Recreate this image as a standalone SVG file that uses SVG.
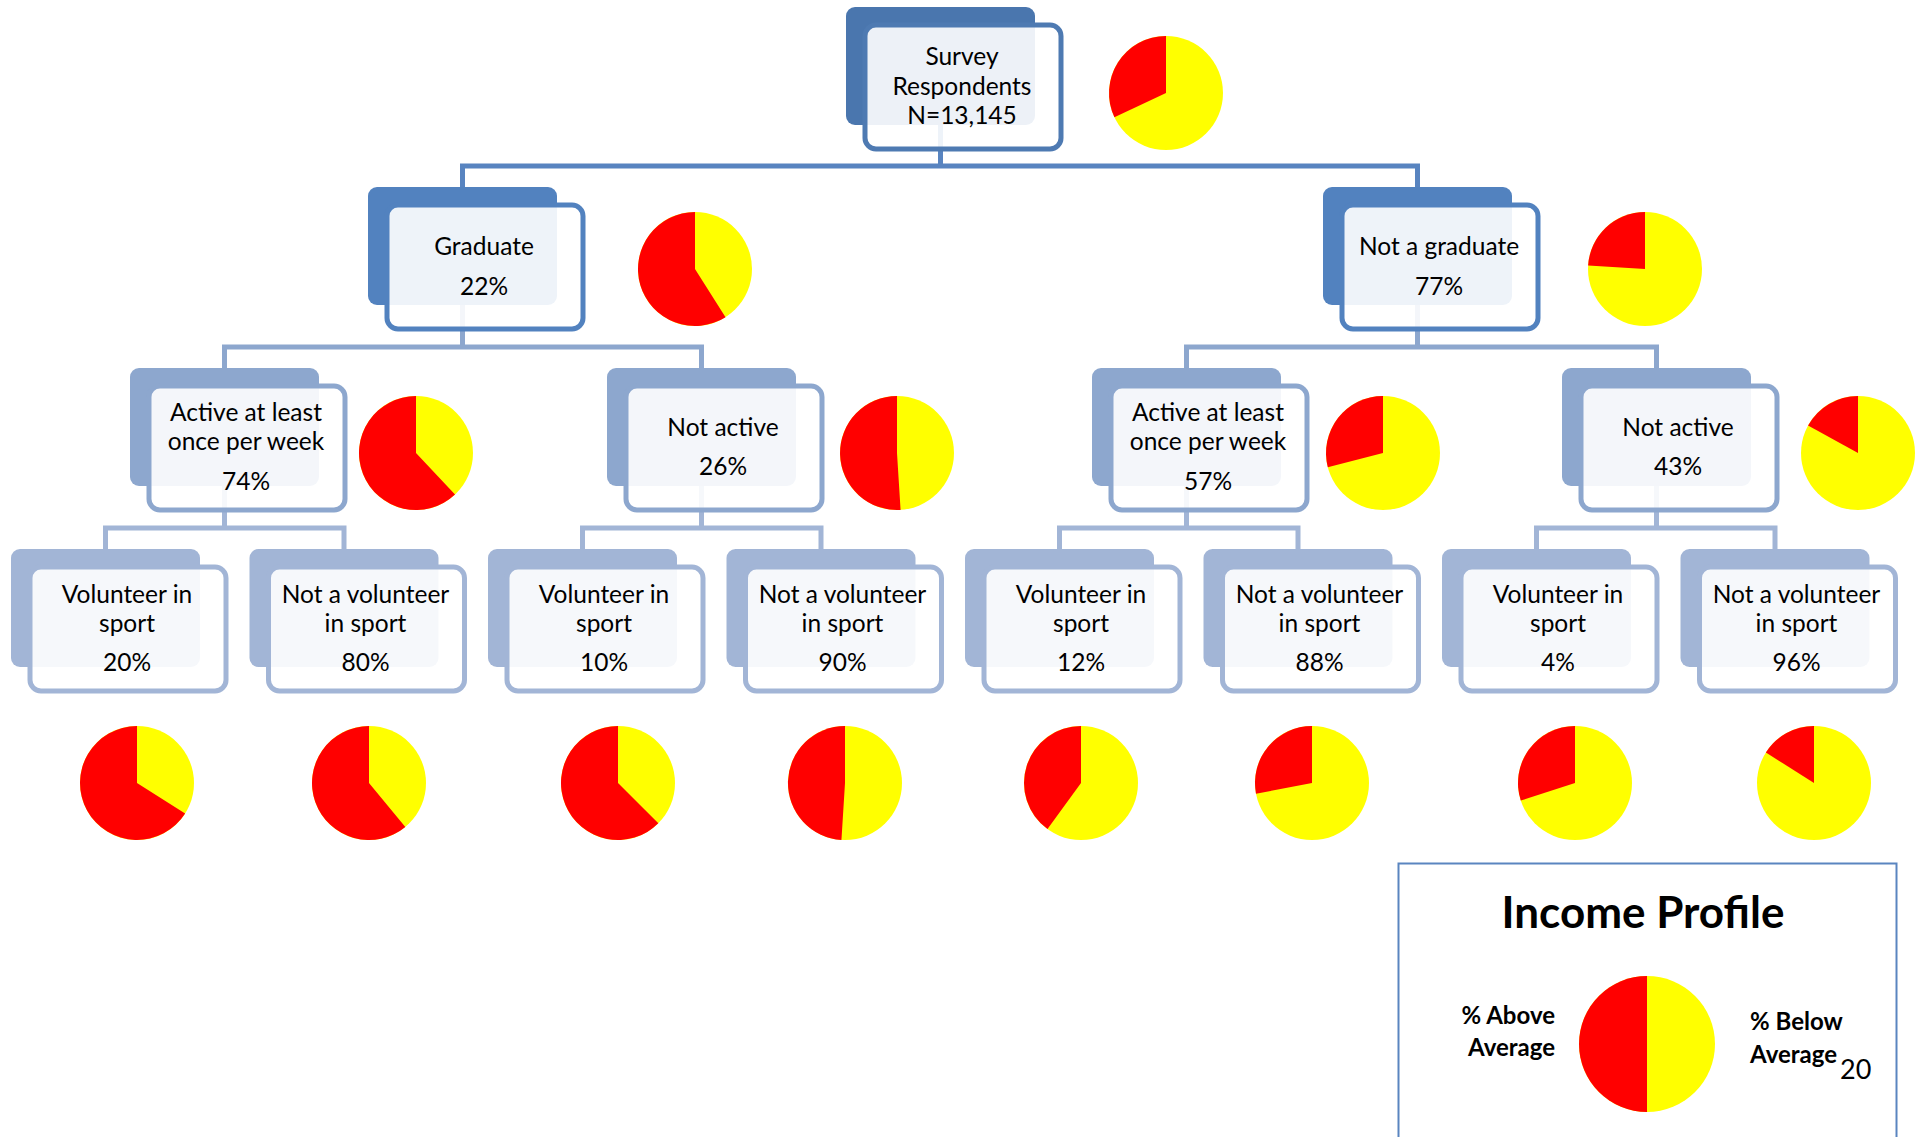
<svg xmlns="http://www.w3.org/2000/svg" width="1919" height="1137" viewBox="0 0 1919 1137">
<style>
.t{font-family:Lato,"Noto Sans",sans-serif;font-size:24.5px;fill:#000;text-anchor:middle}
.front{fill:#fff;fill-opacity:0.9;stroke-width:5}
.c{fill:none;stroke-width:5}
.yel{fill:#FFFF00}
.red{fill:#FF0000}
.l1 .back{fill:#4A76AE}.l1 .front{stroke:#4E7AB2}
.l2 .back{fill:#5282BF}.l2 .front{stroke:#5282BF}
.l3 .back{fill:#8DA7CE}.l3 .front{stroke:#8DA7CE}
.l4 .back{fill:#A2B5D6}.l4 .front{stroke:#A2B5D6}
.lg{font-family:Lato,"Noto Sans",sans-serif;font-weight:bold;fill:#000}
</style>
<g id="connectors">
<path class="c" stroke="#5884C0" d="M940.5,120 V166 M462.5,195 V166 H1417.5 V195"/>
<path class="c" stroke="#8DA7CE" d="M462.5,300 V347 M224.5,375 V347 H701.5 V375 M1417.5,300 V347 M1186.5,375 V347 H1656.5 V375"/>
<path class="c" stroke="#A2B5D6" d="M224.5,480 V528 M105.5,556 V528 H344 V556 M701.5,480 V528 M582.5,556 V528 H821 V556 M1186.5,480 V528 M1059.5,556 V528 H1298 V556 M1656.5,480 V528 M1536.5,556 V528 H1775 V556"/>
</g>
<g id="n-root" class="l1">
<rect class="back" x="846" y="7" width="189" height="118" rx="9"/>
<rect class="front" x="865" y="25" width="196" height="124" rx="11"/>
<text class="t" x="962" y="65">Survey</text>
<text class="t" x="962" y="95">Respondents</text>
<text class="t" x="962" y="124">N=13,145</text>
</g>
<g id="n-grad" class="l2">
<rect class="back" x="368" y="187" width="189" height="118" rx="9"/>
<rect class="front" x="387" y="205" width="196" height="124" rx="11"/>
<text class="t" x="484" y="255">Graduate</text>
<text class="t" x="484" y="295">22%</text>
</g>
<g id="n-notgrad" class="l2">
<rect class="back" x="1323" y="187" width="189" height="118" rx="9"/>
<rect class="front" x="1342" y="205" width="196" height="124" rx="11"/>
<text class="t" x="1439" y="255">Not a graduate</text>
<text class="t" x="1439" y="295">77%</text>
</g>
<g id="n-g-active" class="l3">
<rect class="back" x="130" y="368" width="189" height="118" rx="9"/>
<rect class="front" x="149" y="386" width="196" height="124" rx="11"/>
<text class="t" x="246" y="421">Active at least</text>
<text class="t" x="246" y="450">once per week</text>
<text class="t" x="246" y="490">74%</text>
</g>
<g id="n-g-notactive" class="l3">
<rect class="back" x="607" y="368" width="189" height="118" rx="9"/>
<rect class="front" x="626" y="386" width="196" height="124" rx="11"/>
<text class="t" x="723" y="436">Not active</text>
<text class="t" x="723" y="475">26%</text>
</g>
<g id="n-ng-active" class="l3">
<rect class="back" x="1092" y="368" width="189" height="118" rx="9"/>
<rect class="front" x="1111" y="386" width="196" height="124" rx="11"/>
<text class="t" x="1208" y="421">Active at least</text>
<text class="t" x="1208" y="450">once per week</text>
<text class="t" x="1208" y="490">57%</text>
</g>
<g id="n-ng-notactive" class="l3">
<rect class="back" x="1562" y="368" width="189" height="118" rx="9"/>
<rect class="front" x="1581" y="386" width="196" height="124" rx="11"/>
<text class="t" x="1678" y="436">Not active</text>
<text class="t" x="1678" y="475">43%</text>
</g>
<g id="n-leaf1" class="l4">
<rect class="back" x="11" y="549" width="189" height="118" rx="9"/>
<rect class="front" x="30" y="567" width="196" height="124" rx="11"/>
<text class="t" x="127" y="603">Volunteer in</text>
<text class="t" x="127" y="632">sport</text>
<text class="t" x="127" y="671">20%</text>
</g>
<g id="n-leaf2" class="l4">
<rect class="back" x="249.5" y="549" width="189" height="118" rx="9"/>
<rect class="front" x="268.5" y="567" width="196" height="124" rx="11"/>
<text class="t" x="365.5" y="603">Not a volunteer</text>
<text class="t" x="365.5" y="632">in sport</text>
<text class="t" x="365.5" y="671">80%</text>
</g>
<g id="n-leaf3" class="l4">
<rect class="back" x="488" y="549" width="189" height="118" rx="9"/>
<rect class="front" x="507" y="567" width="196" height="124" rx="11"/>
<text class="t" x="604" y="603">Volunteer in</text>
<text class="t" x="604" y="632">sport</text>
<text class="t" x="604" y="671">10%</text>
</g>
<g id="n-leaf4" class="l4">
<rect class="back" x="726.5" y="549" width="189" height="118" rx="9"/>
<rect class="front" x="745.5" y="567" width="196" height="124" rx="11"/>
<text class="t" x="842.5" y="603">Not a volunteer</text>
<text class="t" x="842.5" y="632">in sport</text>
<text class="t" x="842.5" y="671">90%</text>
</g>
<g id="n-leaf5" class="l4">
<rect class="back" x="965" y="549" width="189" height="118" rx="9"/>
<rect class="front" x="984" y="567" width="196" height="124" rx="11"/>
<text class="t" x="1081" y="603">Volunteer in</text>
<text class="t" x="1081" y="632">sport</text>
<text class="t" x="1081" y="671">12%</text>
</g>
<g id="n-leaf6" class="l4">
<rect class="back" x="1203.5" y="549" width="189" height="118" rx="9"/>
<rect class="front" x="1222.5" y="567" width="196" height="124" rx="11"/>
<text class="t" x="1319.5" y="603">Not a volunteer</text>
<text class="t" x="1319.5" y="632">in sport</text>
<text class="t" x="1319.5" y="671">88%</text>
</g>
<g id="n-leaf7" class="l4">
<rect class="back" x="1442" y="549" width="189" height="118" rx="9"/>
<rect class="front" x="1461" y="567" width="196" height="124" rx="11"/>
<text class="t" x="1558" y="603">Volunteer in</text>
<text class="t" x="1558" y="632">sport</text>
<text class="t" x="1558" y="671">4%</text>
</g>
<g id="n-leaf8" class="l4">
<rect class="back" x="1680.5" y="549" width="189" height="118" rx="9"/>
<rect class="front" x="1699.5" y="567" width="196" height="124" rx="11"/>
<text class="t" x="1796.5" y="603">Not a volunteer</text>
<text class="t" x="1796.5" y="632">in sport</text>
<text class="t" x="1796.5" y="671">96%</text>
</g>
<g id="pies">
<circle class="yel" cx="1166" cy="93" r="57"/><path class="red" d="M1166,93 L1166,36 A57,57 0 0 0 1114.43,117.27 Z"/>
<circle class="yel" cx="695" cy="269" r="57"/><path class="red" d="M695,269 L695,212 A57,57 0 1 0 725.54,317.13 Z"/>
<circle class="yel" cx="1645" cy="269" r="57"/><path class="red" d="M1645,269 L1645,212 A57,57 0 0 0 1588.1,265.4 Z"/>
<circle class="yel" cx="416" cy="453" r="57"/><path class="red" d="M416,453 L416,396 A57,57 0 1 0 455.02,494.55 Z"/>
<circle class="yel" cx="897" cy="453" r="57"/><path class="red" d="M897,453 L897,396 A57,57 0 1 0 900.58,509.89 Z"/>
<circle class="yel" cx="1383" cy="453" r="57"/><path class="red" d="M1383,453 L1383,396 A57,57 0 0 0 1327.79,467.18 Z"/>
<circle class="yel" cx="1858" cy="453" r="57"/><path class="red" d="M1858,453 L1858,396 A57,57 0 0 0 1808.05,425.54 Z"/>
<circle class="yel" cx="137" cy="783" r="57"/><path class="red" d="M137,783 L137,726 A57,57 0 1 0 185.13,813.54 Z"/>
<circle class="yel" cx="369" cy="783" r="57"/><path class="red" d="M369,783 L369,726 A57,57 0 1 0 405.33,826.92 Z"/>
<circle class="yel" cx="618" cy="783" r="57"/><path class="red" d="M618,783 L618,726 A57,57 0 1 0 658.3,823.3 Z"/>
<circle class="yel" cx="845" cy="783" r="57"/><path class="red" d="M845,783 L845,726 A57,57 0 0 0 841.42,839.89 Z"/>
<circle class="yel" cx="1081" cy="783" r="57"/><path class="red" d="M1081,783 L1081,726 A57,57 0 0 0 1047.5,829.11 Z"/>
<circle class="yel" cx="1312" cy="783" r="57"/><path class="red" d="M1312,783 L1312,726 A57,57 0 0 0 1256.01,793.68 Z"/>
<circle class="yel" cx="1575" cy="783" r="57"/><path class="red" d="M1575,783 L1575,726 A57,57 0 0 0 1520.79,800.61 Z"/>
<circle class="yel" cx="1814" cy="783" r="57"/><path class="red" d="M1814,783 L1814,726 A57,57 0 0 0 1765.87,752.46 Z"/>
</g>
<g id="legend">
<rect x="1398.5" y="863.5" width="498" height="300" fill="#fff" stroke="#5A85C0" stroke-width="2"/>
<text class="lg" x="1643" y="928" font-size="44" text-anchor="middle">Income Profile</text>
<circle class="yel" cx="1647" cy="1044" r="68"/>
<path class="red" d="M1647,1044 L1647,976 A68,68 0 0 0 1647,1112 Z"/>
<text class="lg" x="1555" y="1024" font-size="24" text-anchor="end">% Above</text>
<text class="lg" x="1555" y="1056" font-size="24" text-anchor="end">Average</text>
<text class="lg" x="1750" y="1030" font-size="24">% Below</text>
<text class="lg" x="1750" y="1063" font-size="24">Average</text>
<text x="1840" y="1079" font-family="Lato,'Noto Sans',sans-serif" font-size="27" fill="#000">20</text>
</g>
</svg>
